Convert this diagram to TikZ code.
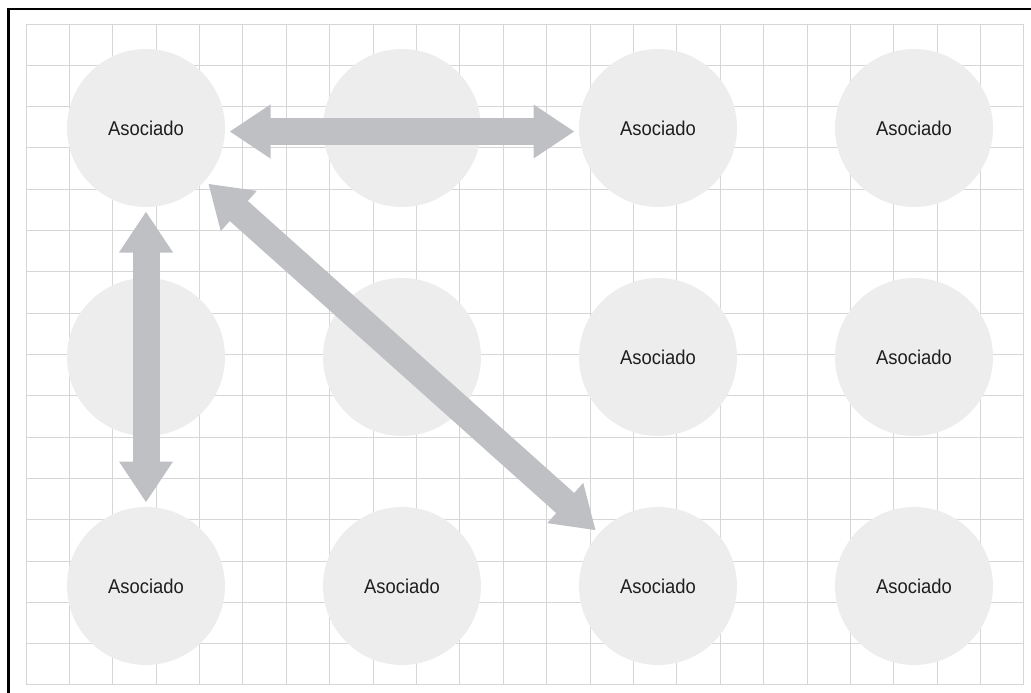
\documentclass[tikz,border=0pt]{standalone}
\usepackage{fontspec}
\setsansfont[FakeStretch=0.92]{Liberation Sans}
\definecolor{gridgray}{HTML}{D6D6D6}
\definecolor{disc}{HTML}{EDEDED}
\definecolor{linkgray}{HTML}{BFC0C4}
\definecolor{ink}{HTML}{1E1E1E}
\usetikzlibrary{arrows.meta, positioning}
\tikzset{
  assoc/.style={circle, fill=disc, minimum size=158pt, inner sep=0pt, outer sep=0pt,
                text=ink, font=\sffamily\fontsize{20}{24}\selectfont},
  link/.style={{Triangle[length=41pt,width=51pt]}-{Triangle[length=41pt,width=51pt]},
               line width=27pt, draw=linkgray, shorten <=4.5pt, shorten >=4.5pt},
  gridline/.style={draw=gridgray, line width=1pt},
}
\begin{document}
\begin{tikzpicture}[x=1pt,y=-1pt,node distance=71pt and 98pt]
\useasboundingbox (0,0) rectangle (1031,693);
% grid paper
\foreach \i in {0,...,23}{
  \pgfmathsetmacro\gx{int(26+\i*43.39)+0.5}
  \draw[gridline] (\gx,24) -- (\gx,685);
}
\foreach \j in {0,...,16}{
  \pgfmathsetmacro\gy{int(24+\j*41.31)+0.5}
  \draw[gridline] (26,\gy) -- (1024,\gy);
}
\draw[line width=2.4pt] (1031,9) -- (8.3,9) -- (8.3,693);
% associates
\node[assoc] (a1) at (146,128) {Asociado};
\node[assoc,right=of a1] (a2) {};
\node[assoc,right=of a2] (a3) {Asociado};
\node[assoc,right=of a3] (a4) {Asociado};
\node[assoc,below=of a1] (a5) {};
\node[assoc,right=of a5] (a6) {};
\node[assoc,right=of a6] (a7) {Asociado};
\node[assoc,right=of a7] (a8) {Asociado};
\node[assoc,below=of a5] (a9) {Asociado};
\node[assoc,right=of a9] (a10) {Asociado};
\node[assoc,right=of a10] (a11) {Asociado};
\node[assoc,right=of a11] (a12) {Asociado};
% links
\draw[link] ([yshift=-3.5pt]a1.east) -- ([yshift=-3.5pt]a3.west);
\draw[link] (a1) -- (a9);
\draw[link] (a1) -- (a11);
\end{tikzpicture}
\end{document}
